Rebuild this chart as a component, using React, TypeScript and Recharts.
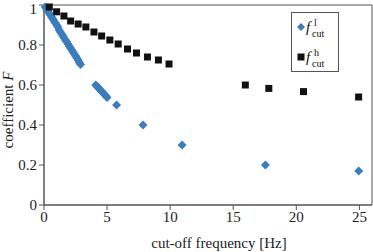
import { ScatterChart, Scatter, XAxis, YAxis, ReferenceArea, Customized } from "recharts";

// lower cut-off frequency (Hz) and resulting coefficient F
const lowFreq = [
  0.1, 0.2, 0.3, 0.4, 0.5, 0.6, 0.7, 0.8, 0.9, 1.0,
  1.1, 1.2, 1.3, 1.4, 1.5, 1.6, 1.7, 1.8, 1.9, 2.0,
  2.1, 2.2, 2.3, 2.4, 2.5, 2.6, 2.7, 2.8, 2.9,
  4.1, 4.2, 4.3, 4.4, 4.5, 4.6, 4.7, 4.8, 4.9, 5.0,
  5.75, 7.85, 10.95, 17.55, 24.95,
];
const lowCoef = [
  0.99, 0.98, 0.97, 0.96, 0.95, 0.94, 0.93, 0.92, 0.91, 0.9,
  0.89, 0.875, 0.865, 0.855, 0.845, 0.835, 0.825, 0.815, 0.805, 0.795,
  0.785, 0.775, 0.765, 0.755, 0.745, 0.735, 0.725, 0.713, 0.703,
  0.6, 0.593, 0.587, 0.58, 0.573, 0.566, 0.559, 0.552, 0.545, 0.538,
  0.5, 0.4, 0.3, 0.2, 0.17,
];

// upper cut-off frequency (Hz) and resulting coefficient F
const highFreq = [
  0.42, 1.0, 1.58, 2.11, 2.71, 3.32, 3.96, 4.57, 5.22, 5.88,
  6.62, 7.33, 8.2, 9.07, 9.91, 15.96, 17.82, 20.57, 24.94,
];
const highCoef = [
  0.99, 0.966, 0.945, 0.92, 0.905, 0.89, 0.865, 0.845, 0.825, 0.805,
  0.78, 0.76, 0.74, 0.725, 0.705, 0.6, 0.583, 0.567, 0.54,
];

const xTicks = [0, 5, 10, 15, 20, 25];
const yTicks = [0, 0.2, 0.4, 0.6, 0.8, 1];

const lowData = lowFreq.map((x, i) => ({ x, y: lowCoef[i] }));
const highData = highFreq.map((x, i) => ({ x, y: highCoef[i] }));

const FONT = "Liberation Serif, Times New Roman, serif";
const BLUE = "#3a7dbf";
const AXIS = "#555";
const INK = "#222";

const diamondPath = (cx: number, cy: number, r: number) =>
  `M${cx} ${cy - r} L${cx + r} ${cy} L${cx} ${cy + r} L${cx - r} ${cy} Z`;

const Diamond = (props: any) => (
  <path d={diamondPath(props.cx, props.cy, 4.5)} fill={BLUE} />
);

const Square = (props: any) => (
  <rect x={props.cx - 3.5} y={props.cy - 3.5} width={7} height={7} fill="#111" />
);

// f with stacked super/subscript, e.g. f^l_cut
const CutText = ({ x, y, sup }: { x: number; y: number; sup: string }) => (
  <g fontFamily={FONT} fill="#111">
    <text x={x} y={y} fontSize={15} fontStyle="italic">f</text>
    <text x={x + 8} y={y - 6} fontSize={10}>{sup}</text>
    <text x={x + 6} y={y + 5} fontSize={10}>cut</text>
  </g>
);

// legend box with its two entries
const LegendBox = () => (
  <g>
    <rect x={291} y={12} width={48} height={60} fill={AXIS} />
    <rect x={292} y={13} width={46} height={58} fill="#fff" />
    <path d={diamondPath(301, 27, 4)} fill={BLUE} />
    <CutText x={306} y={32} sup="l" />
    <rect x={297.5} y={53.5} width={7} height={7} fill="#111" />
    <CutText x={306} y={62} sup="h" />
  </g>
);

export default function App() {
  return (
    <div style={{ position: "absolute", left: 0, top: 0, width: 373, height: 252, background: "#fff" }}>
      <ScatterChart
        width={373}
        height={252}
        margin={{ top: 5, right: 1, left: 0, bottom: 0 }}
      >
        <XAxis
          type="number"
          dataKey="x"
          domain={[0, 26]}
          ticks={xTicks}
          height={47}
          tickSize={5}
          tickMargin={1}
          stroke={AXIS}
          tick={{ fill: INK, fontSize: 15, fontFamily: FONT }}
          label={{
            value: "cut-off frequency [Hz]",
            position: "insideBottom",
            offset: 4,
            dx: 11,
            fill: INK,
            fontSize: 15,
            fontFamily: FONT,
          }}
        />
        <YAxis
          type="number"
          dataKey="y"
          domain={[0, 1]}
          ticks={yTicks}
          width={44}
          tickSize={5}
          tickMargin={2}
          stroke={AXIS}
          tick={{ fill: INK, fontSize: 15, fontFamily: FONT }}
          label={() => (
            <text
              x={10}
              y={110}
              transform="rotate(-90 10 110)"
              textAnchor="middle"
              dominantBaseline="middle"
              fontSize={15}
              fontFamily={FONT}
              fill={INK}
            >
              coefficient <tspan fontStyle="italic">F</tspan>
            </text>
          )}
        />
        {/* plot frame */}
        <ReferenceArea
          x1={0}
          x2={26}
          y1={0}
          y2={1}
          fill="none"
          fillOpacity={0}
          stroke={AXIS}
          strokeOpacity={1}
          strokeWidth={1}
        />
        <Scatter
          name="low"
          data={lowData}
          fill={BLUE}
          shape={Diamond}
          isAnimationActive={false}
        />
        <Scatter
          name="high"
          data={highData}
          fill="#111"
          shape={Square}
          isAnimationActive={false}
        />
        <Customized component={LegendBox} />
      </ScatterChart>
    </div>
  );
}
